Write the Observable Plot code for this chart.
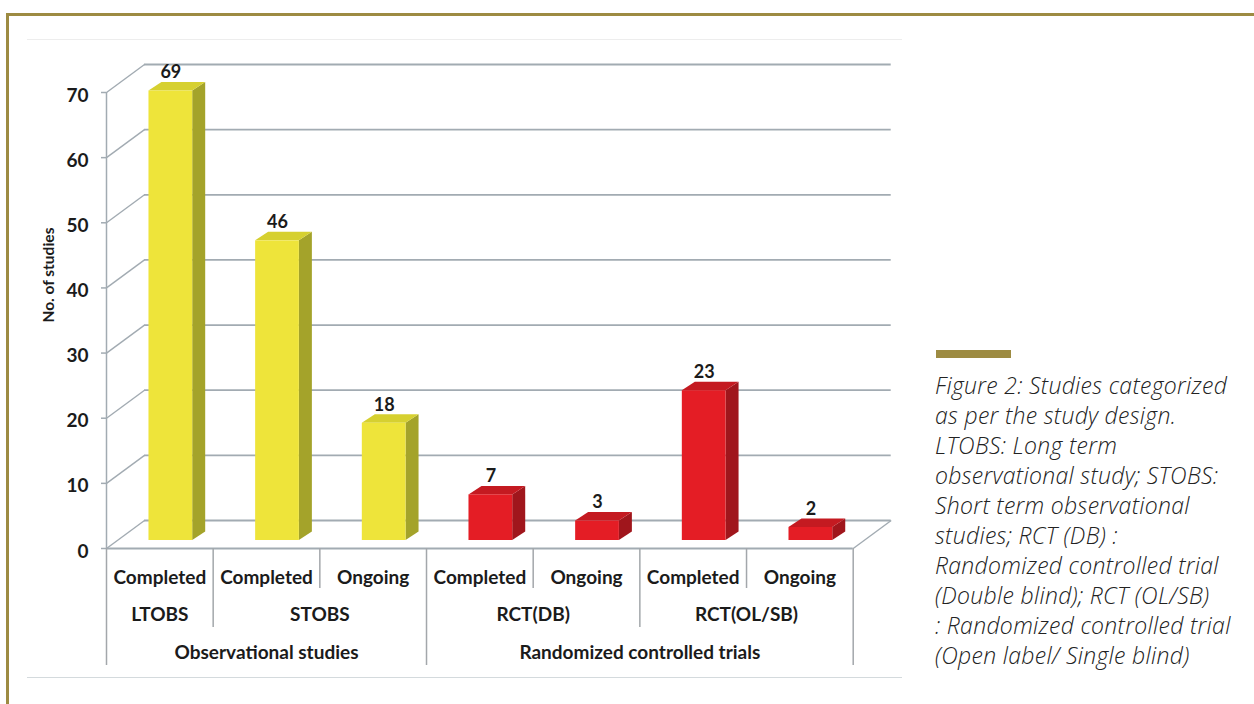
<!DOCTYPE html>
<html><head><meta charset="utf-8">
<script src="https://cdn.jsdelivr.net/npm/d3@7"></script>
<script src="https://cdn.jsdelivr.net/npm/@observablehq/plot@0.6"></script>
<style>
html,body{margin:0;padding:0;background:#fff;width:1254px;height:704px;overflow:hidden;}
#frame{position:absolute;left:6px;top:13px;width:1260px;height:700px;border-top:3px solid #9d8b42;border-left:3px solid #9d8b42;}
#box{position:absolute;left:27px;top:39px;width:875px;height:637px;border-top:1px solid #ededed;border-bottom:1px solid #d4dadd;}
#chart{position:absolute;left:0;top:0;}
#bar{position:absolute;left:936px;top:350px;width:75px;height:8px;background:#9d8b42;}
#cap{position:absolute;left:935px;top:370px;font-family:"Open Sans",Lato,sans-serif;font-style:italic;font-weight:300;font-size:23px;letter-spacing:0.3px;line-height:30px;color:#222;white-space:nowrap;}
</style></head>
<body>
<div id="frame"></div>
<div id="box"></div>
<div id="chart"></div>
<div id="bar"></div>
<div id="cap">Figure 2: Studies categorized<br>as per the study design.<br>LTOBS: Long term<br>observational study; STOBS:<br>Short term observational<br>studies; RCT (DB) :<br>Randomized controlled trial<br>(Double blind); RCT (OL/SB)<br>: Randomized controlled trial<br>(Open label/ Single blind)</div>
<script>
// ---- data ----
const groups = ["Observational studies", "Randomized controlled trials"];
const groupOf = ["Observational studies", "Observational studies", "Observational studies",
  "Randomized controlled trials", "Randomized controlled trials", "Randomized controlled trials", "Randomized controlled trials"];
const designOf = ["LTOBS", "STOBS", "STOBS", "RCT(DB)", "RCT(DB)", "RCT(OL/SB)", "RCT(OL/SB)"];
const statusOf = ["Completed", "Completed", "Ongoing", "Completed", "Ongoing", "Completed", "Ongoing"];
const counts = [69, 46, 18, 7, 3, 23, 2];
const yTicks = [0, 10, 20, 30, 40, 50, 60, 70];
const yTitle = "No. of studies";

// ---- styles / geometry ----
const colors = {
  front: ["#eee43a", "#e41d25"],
  side: ["#a4a32a", "#a0161c"],
  top: ["#d6d030", "#c41a21"]
};
const gridColor = "#a2abb2";
const W = 900, H = 704, ML = 106, MR = 47.3, MT = 92, MB = 156;
const N = counts.length;
const SLOT_PX = (W - ML - MR) / N;
const UNIT_PX = (H - MB - MT) / 70;
const px2x = p => p / SLOT_PX, px2y = p => p / UNIT_PX;
const WALL = {dx: px2x(38), dy: px2y(28)};
const BAR = {w: 0.41, ox: px2x(11), oy: px2y(8), dx: px2x(13), dy: px2y(8.5)};

const bars = counts.map((v, i) => {
  const g = groups.indexOf(groupOf[i]);
  const xl = i + 0.5 - BAR.w / 2 + BAR.ox;
  return {i, v, g, xl, xr: xl + BAR.w, yb: BAR.oy, yt: BAR.oy + v};
});
const sidePts = bars.flatMap(b => [
  {i: b.i, g: b.g, x: b.xr, y1: b.yb, y2: b.yt},
  {i: b.i, g: b.g, x: b.xr + BAR.dx, y1: b.yb + BAR.dy, y2: b.yt + BAR.dy}
]);
const topPts = bars.flatMap(b => [
  {i: b.i, g: b.g, y: b.yt, x1: b.xl, x2: b.xr},
  {i: b.i, g: b.g, y: b.yt + BAR.dy, x1: b.xl + BAR.dx, x2: b.xr + BAR.dx}
]);

// hierarchical axis runs
function runs(arr) {
  const out = [];
  arr.forEach((v, i) => {
    if (out.length && out[out.length - 1].label === v) out[out.length - 1].end = i + 1;
    else out.push({label: v, start: i, end: i + 1});
  });
  return out;
}
const row1 = statusOf.map((s, i) => ({label: s, start: i, end: i + 1}));
const row2 = runs(designOf);
const row3 = runs(groupOf);
const levelPx = [40, 79, 117];
const dividers = d3.range(N + 1).map(k => {
  let lvl;
  if (k === 0 || k === N || groupOf[k] !== groupOf[k - 1]) lvl = 2;
  else if (designOf[k] !== designOf[k - 1]) lvl = 1;
  else lvl = 0;
  return {x: k, y2: -px2y(levelPx[lvl])};
});

const font = "Lato, 'Open Sans', sans-serif";
const txt = {fontFamily: font, fontWeight: "bold", fill: "#1b1b1b"};

const plot = Plot.plot({
  width: W, height: H,
  marginLeft: ML, marginRight: MR, marginTop: MT, marginBottom: MB,
  x: {domain: [0, N], axis: null},
  y: {domain: [0, 70], axis: null},
  color: {type: "identity"},
  style: {background: "transparent", overflow: "visible"},
  marks: [
    // back wall grid
    Plot.ruleY(yTicks, {y: d => d + WALL.dy, x1: WALL.dx, x2: N + WALL.dx, stroke: gridColor, strokeWidth: 1.8}),
    Plot.link(yTicks, {x1: 0, y1: d => d, x2: WALL.dx, y2: d => d + WALL.dy, stroke: gridColor, strokeWidth: 1.4}),
    // floor
    Plot.ruleY([0], {x1: 0, x2: N, stroke: gridColor, strokeWidth: 1.8}),
    Plot.link([0], {x1: N, y1: 0, x2: N + WALL.dx, y2: WALL.dy, stroke: gridColor, strokeWidth: 1.4}),
    // front y axis
    Plot.ruleX([0], {y1: 0, y2: 70, stroke: gridColor, strokeWidth: 1.5}),
    Plot.ruleY(yTicks, {x1: -px2x(5), x2: 0, stroke: gridColor, strokeWidth: 1.5}),
    Plot.text(yTicks, {x: 0, y: d => d, text: d => String(d), textAnchor: "end", dx: -18, dy: 3, fontSize: 19, ...txt}),
    Plot.text([yTitle], {frameAnchor: "left", dx: -57, dy: 2, rotate: -90, fontSize: 15.5, ...txt}),
    // 3D bars
    Plot.areaY(sidePts, {x: "x", y1: "y1", y2: "y2", z: "i", fill: d => colors.side[d.g]}),
    Plot.areaX(topPts, {y: "y", x1: "x1", x2: "x2", z: "i", fill: d => colors.top[d.g]}),
    Plot.rect(bars, {x1: "xl", x2: "xr", y1: "yb", y2: "yt", fill: d => colors.front[d.g]}),
    Plot.text(bars, {x: d => (d.xl + d.xr) / 2, y: d => d.yt + BAR.dy, text: d => String(d.v), dy: -10, fontSize: 18, ...txt}),
    // category axis
    Plot.ruleX(dividers, {x: "x", y1: 0, y2: "y2", stroke: "#a3a7ab", strokeWidth: 1.5}),
    Plot.text(row1, {x: d => (d.start + d.end) / 2, y: 0, text: "label", dy: 29, fontSize: 19, ...txt}),
    Plot.text(row2, {x: d => (d.start + d.end) / 2, y: 0, text: "label", dy: 66, fontSize: 19, ...txt}),
    Plot.text(row3, {x: d => (d.start + d.end) / 2, y: 0, text: "label", dy: 104, fontSize: 19, ...txt})
  ]
});
document.getElementById("chart").appendChild(plot);
</script>
</body></html>
